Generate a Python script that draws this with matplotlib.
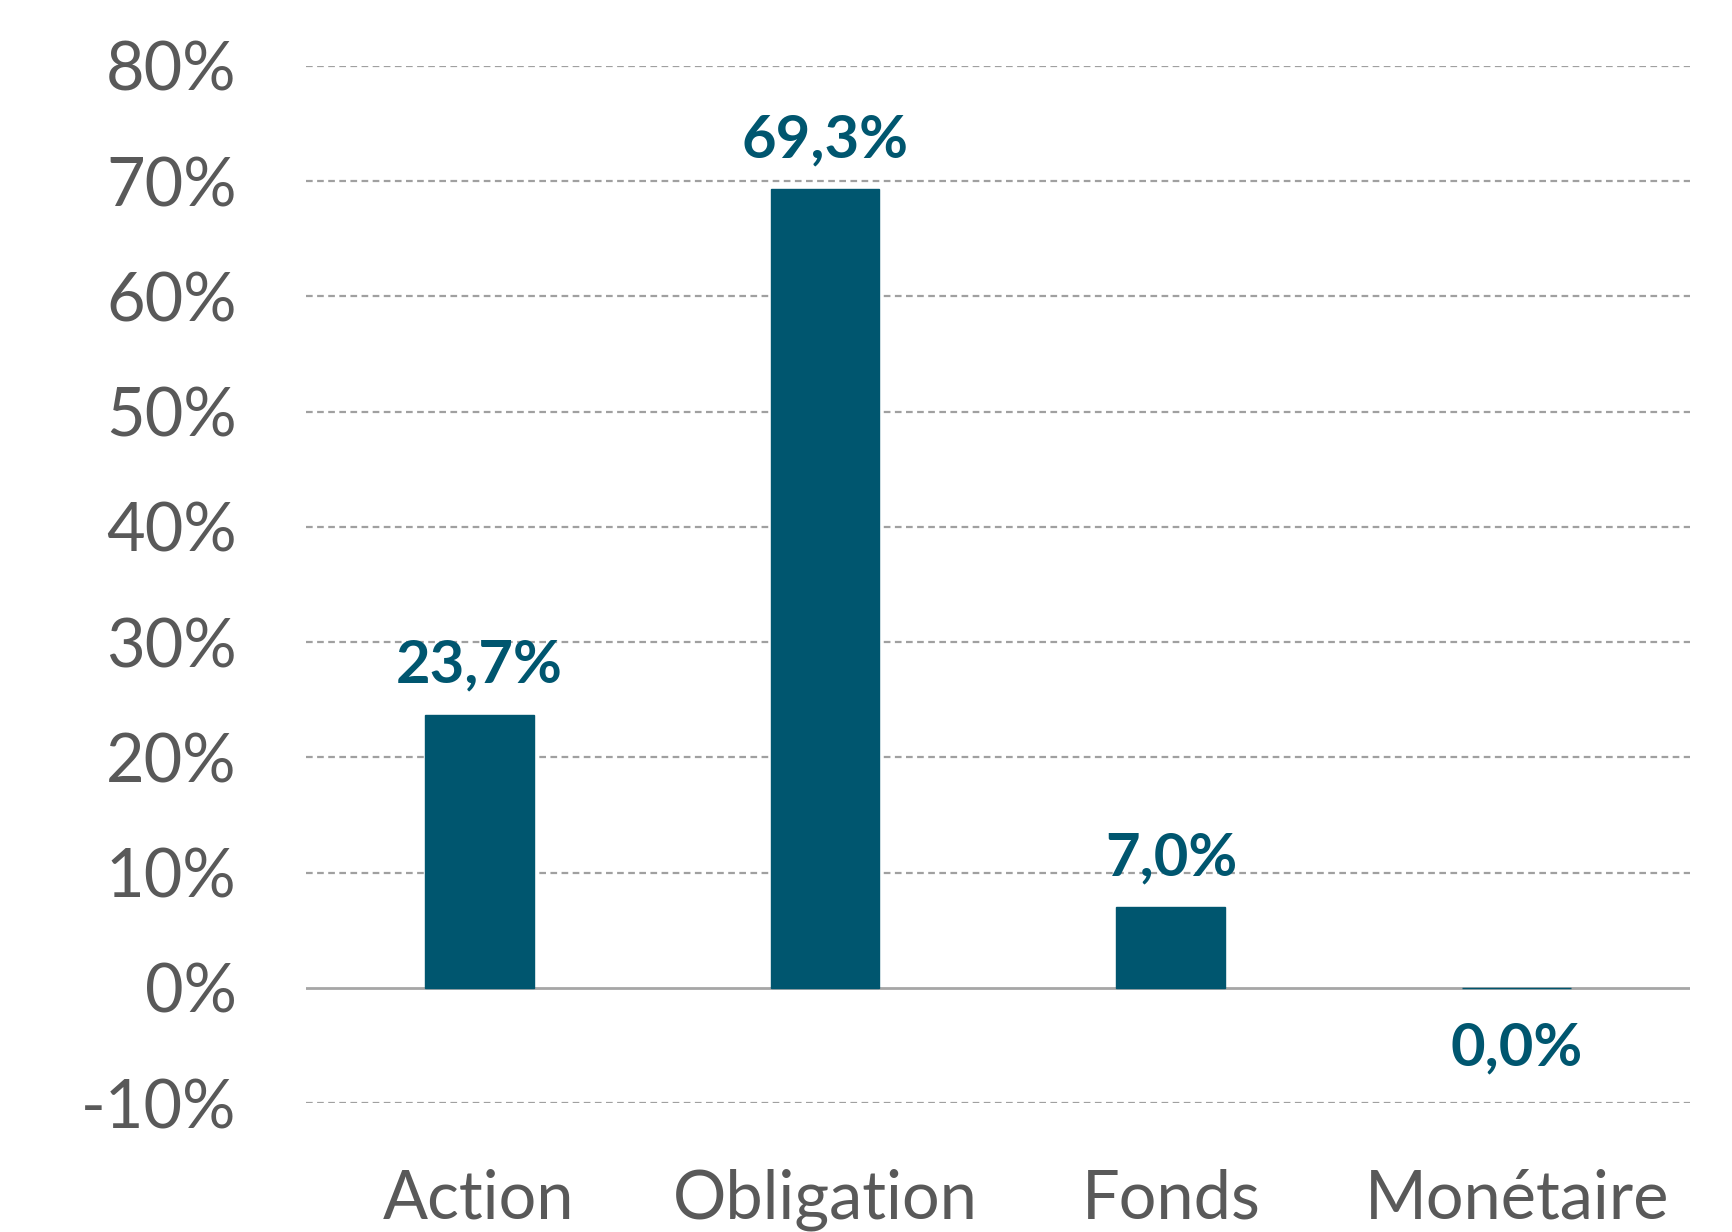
import matplotlib.pyplot as plt
from matplotlib.ticker import FuncFormatter

# donnees
categories = ['Action', 'Obligation', 'Fonds', 'Monétaire']
valeurs = [23.7, 69.3, 7.0, 0.0]
yticks = [-10, 0, 10, 20, 30, 40, 50, 60, 70, 80]

bar_color = '#00566F'
txt_color = '#595959'

plt.rcParams['font.family'] = ['Lato', 'DejaVu Sans']

fig = plt.figure(figsize=(17.32, 12.32), dpi=100)
ax = fig.add_axes([0.1767, 0.1045, 0.799, 0.842])

x = range(len(categories))
ax.bar(x, valeurs, width=0.315, color=bar_color, edgecolor=bar_color, linewidth=1, zorder=3)

# etiquettes de donnees
for i, v in enumerate(valeurs):
    lab = ('%.1f%%' % v).replace('.', ',')
    if v > 0:
        ax.annotate(lab, (i, v), xytext=(0, 16), textcoords='offset points',
                    ha='center', va='bottom', fontsize=43, fontweight='bold', color=bar_color)
    else:
        ax.annotate(lab, (i, v), xytext=(0, -24), textcoords='offset points',
                    ha='center', va='top', fontsize=43, fontweight='bold', color=bar_color)

ax.set_xlim(-0.5, len(categories) - 0.5)
ax.set_ylim(-10, 80)
ax.set_yticks(yticks)
ax.yaxis.set_major_formatter(FuncFormatter(lambda v, p: '%d%%' % v))
ax.set_xticks(list(x))
ax.set_xticklabels(categories)

for t in yticks:
    if t == 0:
        ax.axhline(0, color='#A6A6A6', lw=2, zorder=2)
    else:
        ax.axhline(t, color='#A0A0A0', lw=1.6, ls=(0, (3, 2)), zorder=1)

for s in ax.spines.values():
    s.set_visible(False)
ax.tick_params(axis='both', length=0, labelsize=48, colors=txt_color)
ax.tick_params(axis='y', pad=50)
ax.tick_params(axis='x', pad=47)

fig.savefig('out.png', dpi=100)
